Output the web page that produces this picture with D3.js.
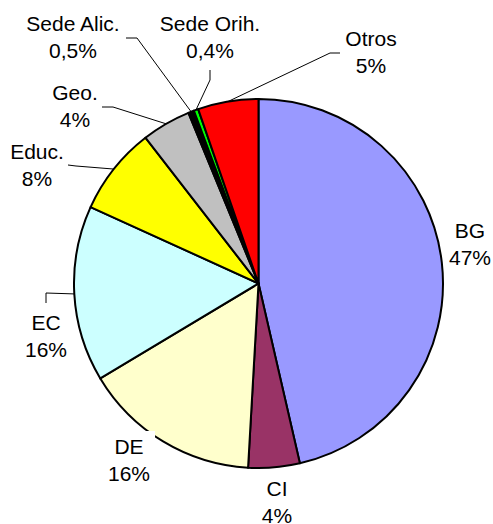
<!DOCTYPE html>
<html>
<head>
<meta charset="utf-8">
<title>Pie</title>
<script src="https://d3js.org/d3.v7.min.js"></script>
<style>
	body { margin: 0; background: #fff; }
	text { font-family: "Liberation Sans", Arial, sans-serif; font-size: 21px; fill: #000; }
</style>
</head>
<body>
<div id="pie"></div>
<script>
	var categories = ["BG", "CI", "DE", "EC", "Educ.", "Geo.", "Sede Alic.", "Sede Orih.", "Otros"];
	var values = [46.4, 4.5, 15.5, 15.4, 7.7, 4.3, 0.5, 0.4, 5.3];
	var pctLabels = ["47%", "4%", "16%", "16%", "8%", "4%", "0,5%", "0,4%", "5%"];
	var colors = ["#9999ff", "#993366", "#ffffcc", "#ccffff", "#ffff00", "#c0c0c0", "#000000", "#00ff00", "#ff0000"];

	// where each label sits (centre x, first baseline) and its leader start/elbow
	var labelPos = [
		{ x: 470, y: 238 },
		{ x: 277, y: 496 },
		{ x: 129, y: 454, box: true },
		{ x: 46, y: 330, lead: [[46, 303], [46, 293]] },
		{ x: 37, y: 159, lead: [[68, 165], [76, 166]] },
		{ x: 75, y: 100, lead: [[102, 107], [113, 107]] },
		{ x: 73, y: 31, lead: [[126, 38], [137, 38]] },
		{ x: 210, y: 31, lead: [[210, 70], [210, 80]] },
		{ x: 371, y: 46, lead: [[340, 53], [330, 53]] }
	];

	var width = 493, height = 524,
		cx = 258.5, cy = 283.5, r = 184.5,
		lineGap = 27;

	var svg = d3.select("#pie").append("svg")
		.attr("width", width)
		.attr("height", height);

	var data = categories.map(function (c, i) {
		return { name: c, value: values[i], pct: pctLabels[i], color: colors[i], pos: labelPos[i] };
	});

	var pie = d3.pie()
		.sort(null)
		.value(function (d) { return d.value; });

	var arc = d3.arc()
		.innerRadius(0)
		.outerRadius(r);

	var arcs = pie(data);

	var g = svg.append("g")
		.attr("transform", "translate(" + cx + "," + cy + ")");

	g.selectAll("path")
		.data(arcs)
		.enter().append("path")
		.attr("d", arc)
		.attr("fill", function (d) { return d.data.color; })
		.attr("stroke", "#000")
		.attr("stroke-width", 2)
		.attr("stroke-linejoin", "round");

	// leader lines
	var line = d3.line();
	svg.selectAll(".leader")
		.data(arcs.filter(function (d) { return d.data.pos.lead; }))
		.enter().append("path")
		.attr("class", "leader")
		.attr("fill", "none")
		.attr("stroke", "#000")
		.attr("stroke-width", 1)
		.attr("d", function (d) {
			var a = (d.startAngle + d.endAngle) / 2;
			var end = [cx + r * Math.sin(a), cy - r * Math.cos(a)];
			return line(d.data.pos.lead.concat([end]));
		});

	var labels = svg.selectAll(".label")
		.data(arcs)
		.enter().append("g")
		.attr("class", "label");

	labels.each(function (d) {
		var lg = d3.select(this);
		var t = lg.append("text")
			.attr("text-anchor", "middle");
		t.append("tspan")
			.attr("x", d.data.pos.x)
			.attr("y", d.data.pos.y)
			.text(d.data.name);
		t.append("tspan")
			.attr("x", d.data.pos.x)
			.attr("y", d.data.pos.y + lineGap)
			.text(d.data.pct);
		if (d.data.pos.box) {
			var bb = t.node().getBBox();
			lg.insert("rect", "text")
				.attr("x", bb.x - 5)
				.attr("y", bb.y - 4)
				.attr("width", bb.width + 10)
				.attr("height", bb.height + 8)
				.attr("fill", "#fff");
		}
	});
</script>
</body>
</html>
